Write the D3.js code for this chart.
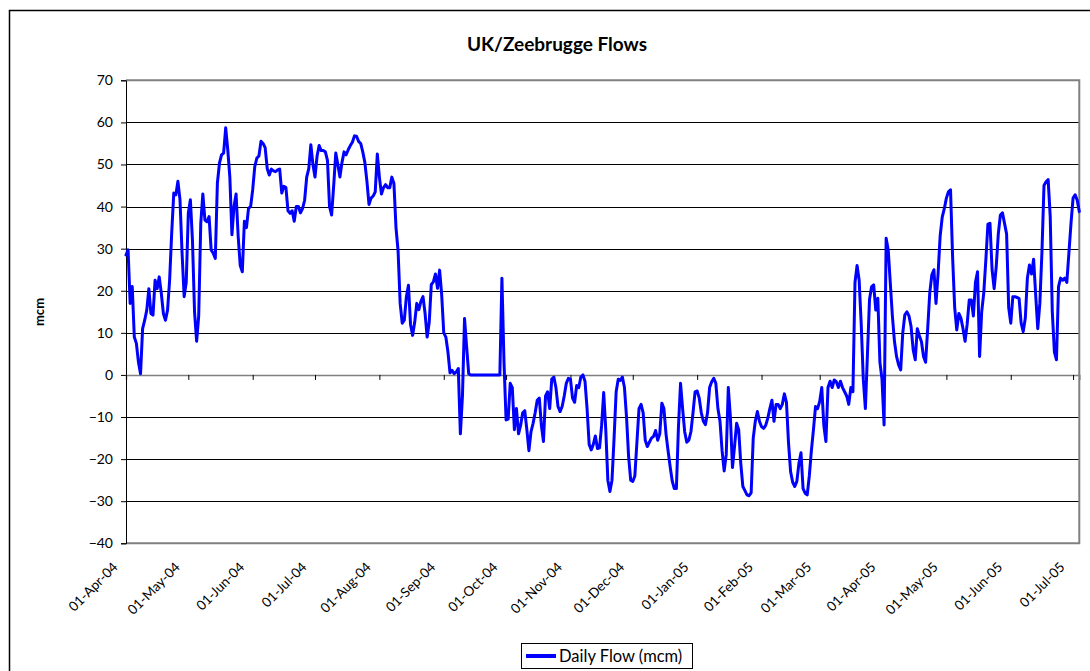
<!DOCTYPE html>
<html>
<head>
<meta charset="utf-8">
<script src="https://cdn.jsdelivr.net/npm/d3@7"></script>
<style>
  html, body { margin: 0; padding: 0; background: #fff; }
  svg { display: block; font-family: Lato, "Open Sans", sans-serif; }
</style>
</head>
<body>
<svg id="chart" width="1090" height="671"></svg>
<script>
// ---- Data (daily flow, mcm), one array per month ----
const apr04 = [28.5, 29.7, 17, 21, 9, 7.5, 3, 0.3, 11, 13, 15.4, 20.5, 14.6, 14.2, 22.5, 20.5, 23.3, 19.4, 14.6, 13, 15.4, 22.5, 33.7, 43.2, 42.8, 46, 41.6, 28.9, 18.6, 22];
const may04 = [38.4, 41.6, 32, 15, 8, 14, 36, 43, 36.8, 36.4, 37.6, 29.7, 28.9, 27.7, 45.6, 50.3, 52.3, 52.7, 58.7, 53.5, 47, 33.3, 40, 43, 33, 26, 24.5, 36.5, 35, 39.6, 40];
const jun04 = [44, 49.5, 51.5, 52, 55.5, 55, 54, 49, 47.5, 48.9, 48.5, 48.3, 48.7, 48.9, 43.2, 44.8, 44.5, 39, 38.4, 39, 36.5, 40, 40, 38.5, 39.5, 41.5, 47, 49, 54.7, 50];
const jul04 = [47, 52, 54.5, 53.3, 53.3, 53, 51, 40, 38, 45, 52.7, 50, 47, 50.5, 53, 52.3, 53.5, 54.5, 55.3, 56.8, 56.7, 55.5, 55, 53, 50.5, 46, 40.5, 42, 42.5, 43.5, 52.5];
const aug04 = [47, 43, 44.5, 45.2, 44.5, 44.5, 47, 45.5, 35, 29.5, 17, 12.3, 13, 18.6, 21.3, 12, 9.4, 12.5, 17, 15.5, 17.5, 18.6, 14.6, 9, 12.5, 21.5, 22.1, 24, 20.6, 24.9, 19];
const sep04 = [10, 9, 5.5, 0.5, 1.1, 0.3, 0.7, 1.5, -14, -5, 13.4, 6.7, 0.3, 0, 0, 0, 0, 0, 0, 0, 0, 0, 0, 0, 0, 0, 0, 0, 23, 3];
const oct04 = [-10.7, -10.5, -2, -3, -13, -8, -14, -12, -9, -8.5, -13, -18, -13.5, -11.5, -9, -6, -5.5, -12, -15.8, -5, -4, -8, -1, -0.5, -3, -7.5, -8.7, -7.5, -5, -2, -0.8];
const nov04 = [-1, -5.5, -6.5, -2.5, -3, -0.5, 0, -1.5, -8, -16.5, -17.8, -16.5, -14.5, -17.5, -17.3, -12, -4.2, -13, -25, -27.7, -25, -15, -4, -1, -1.3, -0.5, -3, -10, -19.4, -25];
const dec04 = [-25.3, -24, -16, -8, -7, -9, -15.5, -17, -16, -15, -14.6, -13.2, -15.5, -14, -6.7, -8, -14, -18, -21.8, -25.2, -27, -27, -12.3, -2, -8, -13.5, -16, -15.5, -13.5, -9, -4];
const jan05 = [-3.8, -5.5, -9, -11, -11.8, -9, -3, -1.6, -0.8, -2, -8, -11, -18, -22.8, -19, -3, -10, -22, -17, -11.5, -13, -21, -26.5, -27.5, -28.5, -28.7, -28, -15, -11, -8.7, -11];
const feb05 = [-12.3, -12.7, -12, -10.3, -8, -6, -11, -7, -7, -8, -7, -4.5, -6.5, -16.2, -23, -25.5, -26.5, -25.3, -21, -18.5, -27, -28.1, -28.5, -24, -18, -13, -7.5, -8];
const mar05 = [-6.3, -3, -12, -15.8, -3, -1.5, -3, -1.2, -1.6, -3, -1.5, -3, -4, -5, -7, -3, -4, 22, 26, 22.5, 12, -1, -8, 5, 18, 21, 21.4, 15.4, 18.2, 3, -1];
const apr05 = [-11.9, 32.5, 29.7, 21.8, 14, 8, 4.4, 2.4, 1.2, 10, 14.3, 15, 14, 11.5, 6, 3.6, 11, 9.3, 7.9, 4.4, 3, 11, 19.5, 23.8, 25, 17, 24, 33, 37.5, 39.5];
const may05 = [42, 43.5, 44, 28, 16, 10.7, 14.6, 13.5, 11, 8, 12, 17.8, 17.8, 14, 22, 24.5, 4.4, 15, 19.5, 27.3, 35.8, 36, 25, 20.5, 25.7, 33.5, 38, 38.5, 36, 33.5, 16];
const jun05 = [12.3, 18.6, 18.6, 18.4, 18.2, 12.3, 10.3, 13.5, 23, 26.1, 24, 27.5, 19, 11, 17, 29, 45, 45.9, 46.4, 37.6, 15, 5.5, 3.6, 21, 23, 22.5, 23, 22, 29, 36];
const jul05 = [42, 42.8, 41.5, 38.8];

const monthSeries = [apr04, may04, jun04, jul04, aug04, sep04, oct04, nov04, dec04, jan05, feb05, mar05, apr05, may05, jun05, jul05];
const firstDay = "2004-04-01";
const lastDay = "2005-07-04";
const yTicks = [-40, -30, -20, -10, 0, 10, 20, 30, 40, 50, 60, 70];
const title = "UK/Zeebrugge Flows";
const yTitle = "mcm";
const seriesName = "Daily Flow (mcm)";

// ---- Build daily records ----
const start = new Date(firstDay + "T00:00:00Z");
const flows = [].concat(...monthSeries);
const data = flows.map((v, i) => ({ date: d3.utcDay.offset(start, i), value: v }));

// ---- Layout ----
const svg = d3.select("#chart");
const W = 1090, H = 671;
const plot = { left: 126, right: 1079.3, top: 80.3, bottom: 543.3 };

svg.append("rect").attr("width", W).attr("height", H).attr("fill", "#fff");
// outer chart border (extends beyond the visible frame on right and bottom)
svg.append("rect").attr("x", 9.5).attr("y", 10.5).attr("width", 1200).attr("height", 800)
  .attr("fill", "none").attr("stroke", "#000").attr("stroke-width", 1.5);

const x = d3.scaleUtc()
  .domain([start, new Date(lastDay + "T00:00:00Z")])
  .range([plot.left, plot.right]);
const y = d3.scaleLinear().domain([-40, 70]).range([plot.bottom, plot.top]);

// gridlines
svg.append("g").selectAll("line").data(yTicks.filter(t => t !== 0 && t !== 70 && t !== -40)).join("line")
  .attr("x1", plot.left).attr("x2", plot.right)
  .attr("y1", d => Math.round(y(d)) + 0.5).attr("y2", d => Math.round(y(d)) + 0.5)
  .attr("stroke", "#000").attr("stroke-width", 1);

// plot area border (top, right, bottom)
svg.append("path")
  .attr("d", `M${plot.left},${y(70)} H${plot.right} V${y(-40)} H${plot.left}`)
  .attr("fill", "none").attr("stroke", "#808080").attr("stroke-width", 2);

// y axis
const yAxis = d3.axisLeft(y).tickValues(yTicks).tickSize(5).tickPadding(8).tickFormat(d3.format("d"));
const gy = svg.append("g").attr("transform", `translate(${plot.left},0)`).call(yAxis);
gy.select(".domain").attr("stroke", "#000").attr("stroke-width", 1);
gy.selectAll(".tick line").attr("stroke", "#000");
gy.selectAll(".tick text").attr("font-size", 14).attr("fill", "#000").attr("font-family", "Lato, sans-serif");

// x axis at zero (ticks only, labels placed at the bottom)
const monthTicks = d3.utcMonth.range(start, d3.utcDay.offset(new Date(lastDay + "T00:00:00Z"), 1));
const xAxis = d3.axisBottom(x).tickValues(monthTicks).tickSize(5).tickFormat("");
const gx = svg.append("g").attr("transform", `translate(0,${y(0)})`).call(xAxis);
gx.select(".domain").attr("stroke", "#808080").attr("stroke-width", 1.5);
gx.selectAll(".tick line").attr("stroke", "#000");

const fmt = d3.utcFormat("%d-%b-%y");
svg.append("g").selectAll("text").data(monthTicks).join("text")
  .attr("transform", d => `translate(${x(d) - 7.5},568) rotate(-45)`)
  .attr("text-anchor", "end")
  .attr("font-size", 13.5)
  .attr("fill", "#000")
  .text(d => fmt(d));

// line
const line = d3.line().x(d => x(d.date)).y(d => y(d.value));
svg.append("path").datum(data)
  .attr("d", line)
  .attr("fill", "none").attr("stroke", "#0000FF").attr("stroke-width", 3)
  .attr("stroke-linejoin", "round").attr("stroke-linecap", "round");

// title
svg.append("text").attr("x", 557).attr("y", 51).attr("text-anchor", "middle")
  .attr("font-size", 19).attr("font-weight", "bold").text(title);

// y title
svg.append("text").attr("transform", "translate(44,312) rotate(-90)")
  .attr("text-anchor", "middle").attr("font-size", 13).attr("font-weight", "bold").text(yTitle);

// legend
const lg = svg.append("g");
lg.append("rect").attr("x", 521.5).attr("y", 643.5).attr("width", 171).attr("height", 25)
  .attr("fill", "#fff").attr("stroke", "#000").attr("stroke-width", 1);
lg.append("line").attr("x1", 526).attr("x2", 556).attr("y1", 656).attr("y2", 656)
  .attr("stroke", "#0000FF").attr("stroke-width", 4);
lg.append("text").attr("x", 559).attr("y", 661.5).attr("font-size", 16.5).text(seriesName);
</script>
</body>
</html>
